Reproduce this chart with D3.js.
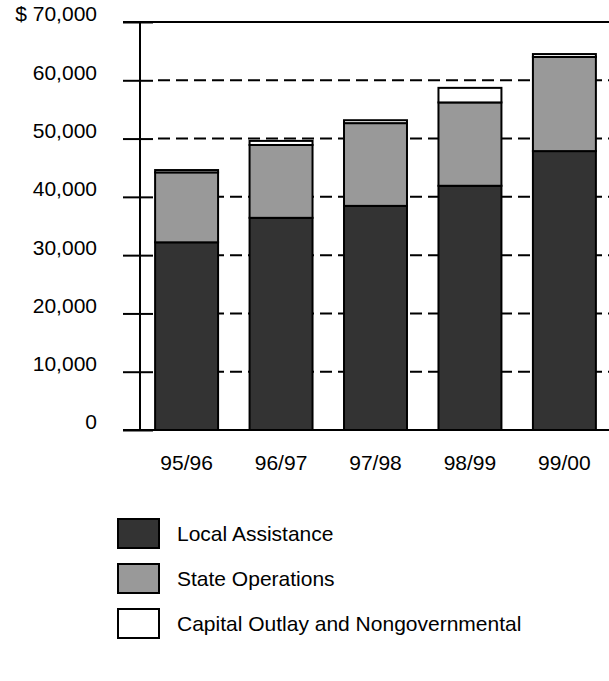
<!DOCTYPE html>
<html>
<head>
<meta charset="utf-8">
<script src="https://cdn.jsdelivr.net/npm/d3@7"></script>
<style>
    body { margin: 0; background: #fff; }
    svg { display: block; font-family: "Liberation Sans", Arial, sans-serif; }
</style>
</head>
<body>
<div id="chart"></div>
<script>
// fiscal years and spending by category (dollars in millions)
const years = ["95/96", "96/97", "97/98", "98/99", "99/00"];
const localAssistance = [32200, 36400, 38450, 41900, 47850];
const stateOperations = [12000, 12500, 14200, 14300, 16150];
const capitalOutlay = [400, 700, 500, 2500, 500];
const yTicks = [0, 10000, 20000, 30000, 40000, 50000, 60000, 70000];

const seriesNames = ["Local Assistance", "State Operations", "Capital Outlay and Nongovernmental"];
const seriesColors = ["#333333", "#999999", "#ffffff"];

const width = 609, height = 681;
const marginLeft = 140, marginTop = 22, plotBottom = 430;

const table = years.map((yr, i) => ({
    year: yr,
    "Local Assistance": localAssistance[i],
    "State Operations": stateOperations[i],
    "Capital Outlay and Nongovernmental": capitalOutlay[i],
}));

const stacked = d3.stack().keys(seriesNames)(table);

const x = d3.scaleBand()
    .domain(years)
    .range([marginLeft, 611])
    .paddingInner(1 / 3)
    .paddingOuter(0.16);

const y = d3.scaleLinear()
    .domain([0, 70000])
    .range([plotBottom, marginTop]);

const color = d3.scaleOrdinal(seriesNames, seriesColors);

const svg = d3.select("#chart").append("svg")
    .attr("width", width)
    .attr("height", height)
    .attr("viewBox", [0, 0, width, height]);

// dashed grid lines, drawn first so the bars hide them
svg.append("g")
    .selectAll("line")
    .data(yTicks.filter(d => d > 0 && d < 70000))
    .join("line")
    .attr("x1", 158)
    .attr("x2", width)
    .attr("y1", d => y(d))
    .attr("y2", d => y(d))
    .attr("stroke", "#000")
    .attr("stroke-width", 2)
    .attr("stroke-dasharray", "12,6");

// top and bottom solid frame lines
svg.append("g")
    .selectAll("line")
    .data([0, 70000])
    .join("line")
    .attr("x1", 123)
    .attr("x2", width)
    .attr("y1", d => y(d))
    .attr("y2", d => y(d))
    .attr("stroke", "#000")
    .attr("stroke-width", 2);

// y axis
svg.append("g")
    .attr("transform", `translate(${marginLeft},0)`)
    .call(d3.axisLeft(y)
        .tickValues(yTicks)
        .tickSize(17)
        .tickPadding(26)
        .tickFormat(d => (d === 70000 ? "$ " : "") + d3.format(",")(d)))
    .call(g => g.select(".domain")
        .attr("d", `M0,${y(70000)}V${y(0)}`)
        .attr("stroke-width", 2))
    .call(g => g.selectAll(".tick line")
        .attr("x1", -17)
        .attr("x2", 13)
        .attr("stroke-width", 2))
    .call(g => g.selectAll(".tick text")
        .attr("font-size", 21)
        .attr("fill", "#000")
        .attr("dy", "-0.05em")
        .attr("font-family", null));

// stacked bars
svg.append("g")
    .selectAll("g")
    .data(stacked)
    .join("g")
    .attr("fill", d => color(d.key))
    .selectAll("rect")
    .data(d => d)
    .join("rect")
    .attr("x", d => x(d.data.year))
    .attr("y", d => y(d[1]))
    .attr("width", x.bandwidth())
    .attr("height", d => y(d[0]) - y(d[1]))
    .attr("stroke", "#000")
    .attr("stroke-width", 2);

// x labels
svg.append("g")
    .selectAll("text")
    .data(years)
    .join("text")
    .attr("x", d => x(d) + x.bandwidth() / 2)
    .attr("y", 470)
    .attr("text-anchor", "middle")
    .attr("font-size", 21)
    .attr("fill", "#000")
    .text(d => d);

// legend
const legend = svg.append("g")
    .selectAll("g")
    .data(seriesNames)
    .join("g")
    .attr("transform", (d, i) => `translate(118,${519 + i * 45})`);

legend.append("rect")
    .attr("width", 41)
    .attr("height", 29)
    .attr("fill", d => color(d))
    .attr("stroke", "#000")
    .attr("stroke-width", 2);

legend.append("text")
    .attr("x", 59)
    .attr("y", 15)
    .attr("dy", "0.35em")
    .attr("font-size", 21)
    .attr("fill", "#000")
    .text(d => d);
</script>
</body>
</html>
